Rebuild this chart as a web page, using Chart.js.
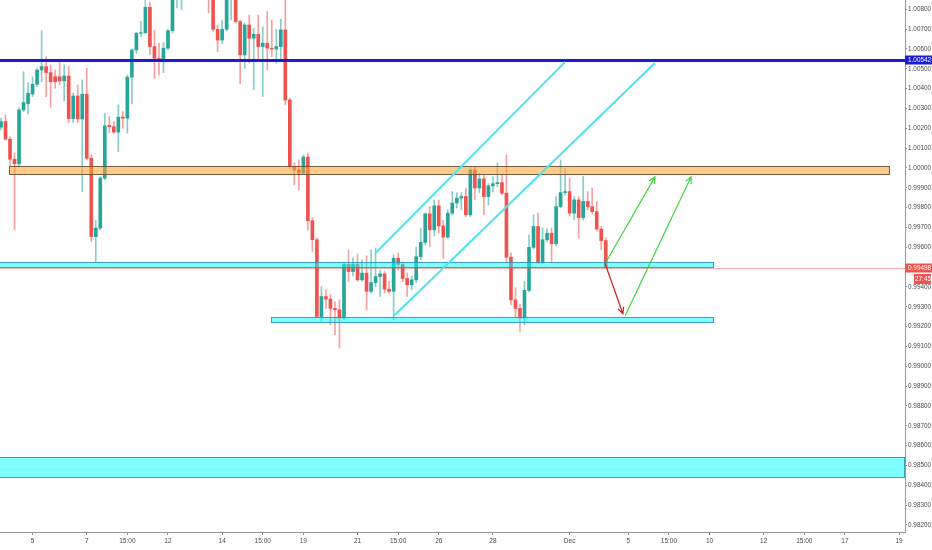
<!DOCTYPE html>
<html>
<head>
<meta charset="utf-8">
<script src="https://cdn.jsdelivr.net/npm/chart.js@4.4.1/dist/chart.umd.min.js"></script>
<style>
  html, body { margin: 0; padding: 0; background: #fff; }
  #wrap { width: 932px; height: 550px; }
</style>
</head>
<body>
<div id="wrap"><canvas id="chart" width="932" height="550"></canvas></div>
<script>
// ========== CANDLES (4h, index 0 = first visible candle) ==========
const openPrice = [
  1.00206, 1.00234, 1.00145, 1.00044, 1.00021, 1.00293, 1.00325, 1.00373, 1.00422, 1.00494,
  1.00511, 1.00481, 1.00460, 1.00460, 1.00439, 1.00464, 1.00249, 1.00363, 1.00247, 1.00372,
  1.00049, 0.99654, 0.99697, 0.99949, 1.00215, 1.00208, 1.00181, 1.00256, 1.00251, 1.00458,
  1.00595, 1.00679, 1.00682, 1.00810, 1.00612, 1.00553, 1.00539, 1.00604, 1.00692, 1.00860,
  1.00865, 1.00880, 1.00910, 1.00895, 1.00925, 1.00915, 1.00940, 1.00905, 1.00699, 1.00645,
  1.00699, 1.00872, 1.00885, 1.00738, 1.00570, 1.00721, 1.00654, 1.00674, 1.00612, 1.00629,
  1.00604, 1.00600, 1.00612, 1.00696, 1.00343, 1.00007, 0.99990, 0.99974, 1.00055, 0.99734,
  0.99638, 0.99251, 0.99352, 0.99339, 0.99292, 0.99285, 0.99243, 0.99514, 0.99478, 0.99514,
  0.99436, 0.99470, 0.99378, 0.99422, 0.99453, 0.99466, 0.99389, 0.99378, 0.99545, 0.99514,
  0.99443, 0.99411, 0.99436, 0.99553, 0.99625, 0.99769, 0.99688, 0.99809, 0.99708, 0.99651,
  0.99772, 0.99823, 0.99848, 0.99856, 0.99764, 0.99991, 0.99899, 0.99945, 0.99856, 0.99910,
  0.99921, 0.99926, 0.99873, 0.99550, 0.99335, 0.99292, 0.99243, 0.99383, 0.99600, 0.99705,
  0.99523, 0.99638, 0.99671, 0.99618, 0.99805, 0.99876, 0.99881, 0.99772, 0.99839, 0.99750,
  0.99831, 0.99805, 0.99780, 0.99692, 0.99634
];
const highPrice = [
  1.00252, 1.00267, 1.00157, 1.00076, 1.00303, 1.00486, 1.00429, 1.00460, 1.00504, 1.00692,
  1.00561, 1.00519, 1.00494, 1.00550, 1.00519, 1.00511, 1.00378, 1.00419, 1.00444, 1.00503,
  1.00066, 0.99735, 0.99957, 1.00276, 1.00259, 1.00234, 1.00318, 1.00284, 1.00469, 1.00599,
  1.00684, 1.00739, 1.00847, 1.00837, 1.00695, 1.00630, 1.00632, 1.00699, 1.00880, 1.00890,
  1.00900, 1.00930, 1.00940, 1.00950, 1.00960, 1.00970, 1.00980, 1.00930, 1.00721, 1.00746,
  1.00890, 1.00905, 1.00895, 1.00746, 1.00730, 1.00771, 1.00704, 1.00771, 1.00712, 1.00788,
  1.00746, 1.00699, 1.00750, 1.00847, 1.00353, 1.00025, 1.00041, 1.00066, 1.00075, 0.99749,
  0.99648, 0.99403, 0.99386, 0.99361, 0.99327, 0.99335, 0.99526, 0.99587, 0.99547, 0.99567,
  0.99537, 0.99557, 0.99587, 0.99597, 0.99486, 0.99478, 0.99428, 0.99562, 0.99572, 0.99527,
  0.99471, 0.99456, 0.99602, 0.99697, 0.99772, 0.99805, 0.99839, 0.99839, 0.99735, 0.99789,
  0.99881, 0.99875, 0.99876, 0.99899, 1.00004, 1.00004, 0.99974, 0.99966, 0.99921, 0.99957,
  1.00025, 0.99966, 1.00066, 0.99572, 0.99396, 0.99314, 0.99428, 0.99663, 0.99764, 0.99772,
  0.99698, 0.99693, 0.99698, 0.99856, 1.00041, 0.99999, 0.99949, 0.99855, 0.99855, 0.99957,
  0.99881, 0.99899, 0.99831, 0.99705, 0.99648
];
const lowPrice = [
  1.00192, 1.00141, 1.00011, 0.99688, 1.00006, 1.00284, 1.00273, 1.00360, 1.00410, 1.00435,
  1.00360, 1.00306, 1.00403, 1.00419, 1.00338, 1.00229, 1.00229, 1.00229, 0.99881, 1.00041,
  0.99629, 0.99528, 0.99688, 0.99940, 1.00177, 1.00175, 1.00083, 1.00200, 1.00175, 1.00323,
  1.00578, 1.00662, 1.00679, 1.00570, 1.00452, 1.00469, 1.00481, 1.00595, 1.00681, 1.00807,
  1.00797, 1.00855, 1.00870, 1.00880, 1.00885, 1.00890, 1.00782, 1.00687, 1.00587, 1.00625,
  1.00691, 1.00746, 1.00731, 1.00424, 1.00503, 1.00529, 1.00394, 1.00536, 1.00360, 1.00494,
  1.00561, 1.00528, 1.00536, 1.00318, 0.99999, 0.99915, 0.99889, 0.99966, 0.99688, 0.99579,
  0.99245, 0.99226, 0.99292, 0.99209, 0.99159, 0.99092, 0.99235, 0.99428, 0.99456, 0.99428,
  0.99428, 0.99285, 0.99369, 0.99401, 0.99352, 0.99369, 0.99369, 0.99235, 0.99486, 0.99426,
  0.99352, 0.99386, 0.99421, 0.99537, 0.99612, 0.99604, 0.99658, 0.99671, 0.99545, 0.99646,
  0.99764, 0.99799, 0.99789, 0.99755, 0.99755, 0.99839, 0.99875, 0.99764, 0.99814, 0.99881,
  0.99905, 0.99864, 0.99527, 0.99310, 0.99245, 0.99176, 0.99209, 0.99376, 0.99592, 0.99517,
  0.99517, 0.99628, 0.99528, 0.99607, 0.99799, 0.99864, 0.99758, 0.99740, 0.99646, 0.99738,
  0.99789, 0.99769, 0.99683, 0.99587, 0.99495
];
const closePrice = [
  1.00234, 1.00145, 1.00044, 1.00021, 1.00293, 1.00330, 1.00377, 1.00422, 1.00494, 1.00511,
  1.00481, 1.00435, 1.00435, 1.00439, 1.00464, 1.00249, 1.00363, 1.00247, 1.00372, 1.00049,
  0.99654, 0.99697, 0.99949, 1.00212, 1.00208, 1.00181, 1.00256, 1.00251, 1.00458, 1.00595,
  1.00679, 1.00682, 1.00810, 1.00612, 1.00553, 1.00539, 1.00604, 1.00692, 1.00862, 1.00870,
  1.00880, 1.00910, 1.00895, 1.00925, 1.00915, 1.00940, 1.00905, 1.00699, 1.00645, 1.00699,
  1.00872, 1.00885, 1.00738, 1.00570, 1.00721, 1.00654, 1.00674, 1.00612, 1.00629, 1.00604,
  1.00600, 1.00612, 1.00696, 1.00343, 1.00007, 0.99990, 0.99974, 1.00055, 0.99734, 0.99638,
  0.99251, 0.99352, 0.99339, 0.99292, 0.99285, 0.99243, 0.99514, 0.99478, 0.99514, 0.99436,
  0.99470, 0.99378, 0.99422, 0.99453, 0.99466, 0.99389, 0.99378, 0.99545, 0.99514, 0.99443,
  0.99411, 0.99436, 0.99553, 0.99625, 0.99769, 0.99688, 0.99809, 0.99708, 0.99651, 0.99772,
  0.99823, 0.99848, 0.99856, 0.99764, 0.99991, 0.99899, 0.99945, 0.99856, 0.99910, 0.99921,
  0.99926, 0.99873, 0.99550, 0.99335, 0.99292, 0.99243, 0.99383, 0.99600, 0.99705, 0.99523,
  0.99638, 0.99671, 0.99618, 0.99805, 0.99876, 0.99881, 0.99772, 0.99839, 0.99750, 0.99831,
  0.99805, 0.99780, 0.99692, 0.99634, 0.99498
];

// ========== AXES ==========
const priceTicks = [
  0.982, 0.983, 0.984, 0.985, 0.986, 0.987, 0.988, 0.989, 0.990, 0.991,
  0.992, 0.993, 0.994, 0.995, 0.996, 0.997, 0.998, 0.999, 1.000, 1.001,
  1.002, 1.003, 1.004, 1.005, 1.006, 1.007, 1.008
];
const timeTickIndex = [7, 19, 28, 37, 49, 58, 67, 79, 88, 97, 109, 126, 139, 148, 157, 169, 178, 187, 199];
const timeTickText = ["5", "7", "15:00", "12", "14", "15:00", "19", "21", "15:00", "26", "28", "Dec", "5", "15:00", "10", "12", "15:00", "17", "19"];
const priceMin = 0.981647, priceMax = 1.008469;
const indexMin = -0.22, indexMax = 200.31;

// ========== DRAWINGS (index, price) ==========
const resistanceLevel = 1.00542;
const lastPrice = 0.99498;
const countdownText = "27:45";
// [startIndex, endIndex, upperPrice, lowerPrice]
const orangeZone = [1.84, 196.8, 1.00011, 0.99969];
const cyanZones = [
  [-1, 157.8, 0.99528, 0.99500],
  [59.8, 157.8, 0.99251, 0.99221],
  [-1, 200.1, 0.98543, 0.98442]
];
// [startIndex, startPrice, endIndex, endPrice]
const channelLines = [
  [83.1, 0.99574, 125.0, 1.00535],
  [87.15, 0.99256, 144.9, 1.00529]
];
const redArrows = [[133.8, 0.99522, 137.8, 0.99265]];
const greenArrows = [
  [134.1, 0.99527, 144.9, 0.99955],
  [138.3, 0.99255, 152.9, 0.99955]
];

const UP = "#26a69a", DOWN = "#ef5350";
const UP_WICK = "rgba(38,166,154,0.55)", DOWN_WICK = "rgba(239,83,80,0.55)";
const FONT = "'Liberation Sans', Arial, sans-serif";

const bodies = closePrice.map((c, i) => ({ x: i, y: [openPrice[i], c] }));
const wicks = closePrice.map((c, i) => ({ x: i, y: [lowPrice[i], highPrice[i]] }));
const isUp = closePrice.map((c, i) => c >= openPrice[i]);

// arrow head helper, works in pixels
function drawArrow(ctx, x1, y1, x2, y2, color) {
    ctx.strokeStyle = color;
    ctx.lineWidth = 1.2;
    ctx.beginPath();
    ctx.moveTo(x1, y1);
    ctx.lineTo(x2, y2);
    const a = Math.atan2(y2 - y1, x2 - x1);
    const len = 7;
    ctx.moveTo(x2 - len * Math.cos(a - 0.45), y2 - len * Math.sin(a - 0.45));
    ctx.lineTo(x2, y2);
    ctx.lineTo(x2 - len * Math.cos(a + 0.45), y2 - len * Math.sin(a + 0.45));
    ctx.stroke();
}

const drawings = {
    id: "drawings",
    afterDatasetsDraw(chart) {
        const { ctx, chartArea: a, scales: { x, y } } = chart;
        ctx.save();
        ctx.beginPath();
        ctx.rect(a.left, a.top, a.right - a.left, a.bottom - a.top);
        ctx.clip();

        // last price line
        const ly = Math.round(y.getPixelForValue(lastPrice)) + 0.5;
        ctx.strokeStyle = "rgba(239,83,80,0.45)";
        ctx.lineWidth = 1;
        ctx.beginPath();
        ctx.moveTo(a.left, ly);
        ctx.lineTo(a.right, ly);
        ctx.stroke();

        // zones
        const box = (z, fill, stroke) => {
            const x1 = Math.round(x.getPixelForValue(z[0])) + 0.5;
            const x2 = Math.round(x.getPixelForValue(z[1])) + 0.5;
            const y1 = Math.round(y.getPixelForValue(z[2])) + 0.5;
            const y2 = Math.round(y.getPixelForValue(z[3])) + 0.5;
            ctx.fillStyle = fill;
            ctx.fillRect(x1, y1, x2 - x1, y2 - y1);
            ctx.strokeStyle = stroke;
            ctx.lineWidth = 1;
            ctx.strokeRect(x1, y1, x2 - x1, y2 - y1);
        };
        box(orangeZone, "rgba(255,160,40,0.55)", "rgba(100,75,50,0.9)");
        cyanZones.forEach(z => box(z, "rgba(0,255,255,0.5)", "rgba(40,150,190,0.9)"));

        // resistance level
        const ry = y.getPixelForValue(resistanceLevel);
        ctx.strokeStyle = "#1c1cd4";
        ctx.lineWidth = 3;
        ctx.beginPath();
        ctx.moveTo(a.left, ry);
        ctx.lineTo(a.right, ry);
        ctx.stroke();

        // channel
        ctx.strokeStyle = "#4fe2ef";
        ctx.lineWidth = 2;
        channelLines.forEach(l => {
            ctx.beginPath();
            ctx.moveTo(x.getPixelForValue(l[0]), y.getPixelForValue(l[1]));
            ctx.lineTo(x.getPixelForValue(l[2]), y.getPixelForValue(l[3]));
            ctx.stroke();
        });

        // projection arrows
        redArrows.forEach(l => drawArrow(ctx, x.getPixelForValue(l[0]), y.getPixelForValue(l[1]),
            x.getPixelForValue(l[2]), y.getPixelForValue(l[3]), "#d81b1b"));
        greenArrows.forEach(l => drawArrow(ctx, x.getPixelForValue(l[0]), y.getPixelForValue(l[1]),
            x.getPixelForValue(l[2]), y.getPixelForValue(l[3]), "#3ed63e"));
        ctx.restore();
    },
    afterDraw(chart) {
        const { ctx, chartArea: a, scales: { y } } = chart;
        ctx.save();
        ctx.font = "6.4px " + FONT;
        ctx.textBaseline = "middle";
        // resistance label
        let py = Math.round(y.getPixelForValue(resistanceLevel));
        ctx.fillStyle = "#1c1cd4";
        ctx.fillRect(a.right, py - 4.5, 27, 9);
        ctx.fillStyle = "#fff";
        ctx.fillText(resistanceLevel.toFixed(5), a.right + 3, py + 0.5);
        // last price + countdown
        py = Math.round(y.getPixelForValue(lastPrice));
        ctx.fillStyle = DOWN;
        ctx.fillRect(a.right, py - 4.5, 27, 9);
        ctx.fillRect(a.right + 9, py + 6, 17, 10);
        ctx.fillStyle = "#fff";
        ctx.fillText(lastPrice.toFixed(5), a.right + 3, py + 0.5);
        ctx.fillText(countdownText, a.right + 10, py + 11.5);
        ctx.restore();
    }
};

const ctx = document.getElementById("chart").getContext("2d");
new Chart(ctx, {
    type: "bar",
    data: {
        datasets: [
            {
                label: "body",
                data: bodies,
                backgroundColor: isUp.map(u => (u ? UP : DOWN)),
                barThickness: 3,
                grouped: false
            },
            {
                label: "wick",
                data: wicks,
                backgroundColor: isUp.map(u => (u ? UP_WICK : DOWN_WICK)),
                barThickness: 1,
                grouped: false
            }
        ]
    },
    options: {
        responsive: false,
        animation: false,
        layout: { padding: 0 },
        plugins: { legend: { display: false }, tooltip: { enabled: false } },
        scales: {
            x: {
                type: "linear",
                min: indexMin,
                max: indexMax,
                offset: false,
                afterBuildTicks: axis => { axis.ticks = timeTickIndex.map(v => ({ value: v })); },
                afterFit: axis => { axis.height = 18; axis.paddingLeft = 0; axis.paddingRight = 0; },
                ticks: {
                    autoSkip: false,
                    maxRotation: 0,
                    padding: 2,
                    color: "#4a4a4a",
                    font: { size: 6.5, family: FONT },
                    callback: (v, i) => timeTickText[i]
                },
                grid: { offset: false, drawOnChartArea: false, tickLength: 3, color: "#8a8a8a" },
                border: { color: "#9a9a9a" }
            },
            y: {
                position: "right",
                min: priceMin,
                max: priceMax,
                afterBuildTicks: axis => { axis.ticks = priceTicks.map(v => ({ value: v })); },
                afterFit: axis => { axis.width = 27; axis.paddingTop = 0; axis.paddingBottom = 0; },
                ticks: {
                    autoSkip: false,
                    padding: 1,
                    color: "#4a4a4a",
                    font: { size: 6.4, family: FONT },
                    callback: v => v.toFixed(5)
                },
                grid: { drawOnChartArea: false, tickLength: 2, color: "#8a8a8a" },
                border: { color: "#9a9a9a" }
            }
        }
    },
    plugins: [drawings]
});
</script>
</body>
</html>
